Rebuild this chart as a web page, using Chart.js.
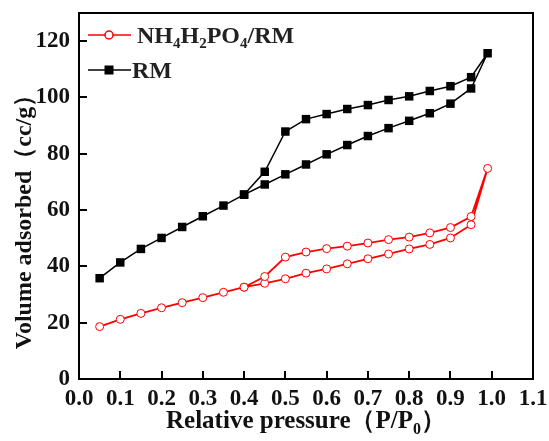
<!DOCTYPE html>
<html>
<head>
<meta charset="utf-8">
<script src="https://cdn.jsdelivr.net/npm/chart.js@4/dist/chart.umd.min.js"></script>
<style>
  html, body { margin: 0; padding: 0; background: #fff; }
  #box { width: 549px; height: 441px; }
</style>
</head>
<body>
<div id="box"><canvas id="grafica"></canvas></div>
<script>
/* Datos */
const presion = [0.05, 0.10, 0.15, 0.20, 0.25, 0.30, 0.35, 0.40, 0.45, 0.50,
                 0.55, 0.60, 0.65, 0.70, 0.75, 0.80, 0.85, 0.90, 0.95, 0.99];
const presionDes = [0.95, 0.90, 0.85, 0.80, 0.75, 0.70, 0.65, 0.60, 0.55, 0.50, 0.45, 0.40];

const rmAds = [35.8, 41.4, 46.2, 50.1, 54.0, 57.8, 61.6, 65.5, 69.1, 72.7,
               76.2, 79.8, 83.1, 86.3, 89.1, 91.7, 94.4, 97.8, 103.2, 115.7];
const rmDes = [107.2, 104.0, 102.3, 100.4, 99.1, 97.3, 95.9, 94.1, 92.3, 87.9, 73.6, 65.5];

const nhAds = [18.6, 21.2, 23.3, 25.3, 27.1, 28.9, 30.8, 32.6, 34.0, 35.6,
               37.6, 39.1, 40.9, 42.7, 44.4, 46.2, 47.8, 50.1, 54.8, 74.8];
const nhDes = [57.7, 53.8, 51.9, 50.4, 49.5, 48.3, 47.2, 46.3, 45.1, 43.3, 36.4, 32.6];

const xTicks = [0, 0.1, 0.2, 0.3, 0.4, 0.5, 0.6, 0.7, 0.8, 0.9, 1.0, 1.1];
const yTicks = [0, 20, 40, 60, 80, 100, 120];

const serif = "'Liberation Serif', 'Times New Roman', serif";

/* adsorcion + desorcion en un solo trazo */
function lazo(ads, des) {
    let pts = presion.map((p, i) => ({ x: p, y: ads[i] }));
    presionDes.forEach((p, i) => pts.push({ x: p, y: des[i] }));
    return pts;
}

/* texto con subindices: partes [texto, esSub] */
function textoSub(ctx, partes, x, y, size, align) {
    const big = "bold " + size + "px " + serif;
    const small = "bold " + Math.round(size * 0.62) + "px " + serif;
    let ancho = 0;
    partes.forEach(p => {
        ctx.font = p[1] ? small : big;
        ancho += ctx.measureText(p[0]).width;
    });
    let cx = align === "center" ? x - ancho / 2 : x;
    ctx.textAlign = "left";
    ctx.textBaseline = "alphabetic";
    partes.forEach(p => {
        ctx.font = p[1] ? small : big;
        ctx.fillText(p[0], cx, p[1] ? y + size * 0.22 : y);
        cx += ctx.measureText(p[0]).width;
    });
}

const extras = {
    id: "extras",
    afterDraw(chart) {
        const ctx = chart.ctx;
        const a = chart.chartArea;
        const sx = chart.scales.x, sy = chart.scales.y;
        ctx.save();
        ctx.strokeStyle = "#000";
        ctx.fillStyle = "#000";
        ctx.lineWidth = 2;
        ctx.strokeRect(a.left, a.top, a.right - a.left, a.bottom - a.top);

        // marcas hacia dentro
        ctx.beginPath();
        xTicks.forEach(v => {
            const px = Math.round(sx.getPixelForValue(v));
            ctx.moveTo(px, a.bottom);
            ctx.lineTo(px, a.bottom - 8);
        });
        yTicks.forEach(v => {
            const py = Math.round(sy.getPixelForValue(v));
            ctx.moveTo(a.left, py);
            ctx.lineTo(a.left + 8, py);
        });
        ctx.stroke();

        // titulos de ejes
        ctx.fillStyle = "#111";
        textoSub(ctx, [["Relative pressure（P/P", false], ["0", true], ["）", false]],
                 (a.left + a.right) / 2, 428, 25, "center");
        ctx.save();
        ctx.translate(31, 216);
        ctx.rotate(-Math.PI / 2);
        textoSub(ctx, [["Volume adsorbed（cc/g）", false]], 0, 0, 24, "center");
        ctx.restore();

        // leyenda
        const lx0 = a.left + 9, lx1 = a.left + 52, lm = a.left + 30;
        ctx.lineWidth = 1.5;
        ctx.strokeStyle = "#ff0000";
        ctx.beginPath(); ctx.moveTo(lx0, 35); ctx.lineTo(lx1, 35); ctx.stroke();
        ctx.fillStyle = "#fff";
        ctx.beginPath(); ctx.arc(lm, 35, 4, 0, Math.PI * 2); ctx.fill(); ctx.stroke();

        ctx.strokeStyle = "#000";
        ctx.beginPath(); ctx.moveTo(lx0, 70); ctx.lineTo(lx1, 70); ctx.stroke();
        ctx.fillStyle = "#000";
        ctx.fillRect(lm - 4.5, 65.5, 9, 9);

        ctx.fillStyle = "#222";
        textoSub(ctx, [["NH", false], ["4", true], ["H", false], ["2", true],
                       ["PO", false], ["4", true], ["/RM", false]], 137, 43, 24, "left");
        textoSub(ctx, [["RM", false]], 132, 78, 24, "left");
        ctx.restore();
    }
};

new Chart(document.getElementById("grafica").getContext("2d"), {
    type: "scatter",
    data: {
        datasets: [{
            label: "NH4H2PO4/RM",
            data: lazo(nhAds, nhDes),
            showLine: true,
            borderColor: "#ff0000",
            borderWidth: 1.8,
            pointStyle: "circle",
            pointRadius: 4,
            pointBorderWidth: 1,
            pointBorderColor: "#ff0000",
            pointBackgroundColor: "#ffffff"
        }, {
            label: "RM",
            data: lazo(rmAds, rmDes),
            showLine: true,
            borderColor: "#000000",
            borderWidth: 1.5,
            pointStyle: "rect",
            pointRadius: 6,
            pointBorderWidth: 0,
            pointBackgroundColor: "#000000"
        }]
    },
    options: {
        responsive: true,
        maintainAspectRatio: false,
        animation: false,
        layout: { padding: { top: 13, right: 16, left: 0, bottom: 0 } },
        plugins: {
            legend: { display: false },
            tooltip: { enabled: false }
        },
        scales: {
            x: {
                type: "linear",
                min: 0, max: 1.1,
                afterBuildTicks: s => { s.ticks = xTicks.map(v => ({ value: v })); },
                afterFit: s => { s.height = 62; s.paddingLeft = 0; s.paddingRight = 0; },
                grid: { display: false, drawTicks: false },
                border: { display: false },
                ticks: {
                    padding: 6,
                    color: "#111",
                    font: { family: serif, weight: "bold", size: 23 },
                    callback: v => Number(v).toFixed(1)
                }
            },
            y: {
                type: "linear",
                min: 0, max: 130,
                afterBuildTicks: s => { s.ticks = yTicks.map(v => ({ value: v })); },
                afterFit: s => { s.width = 79; s.paddingTop = 0; s.paddingBottom = 0; },
                grid: { display: false, drawTicks: false },
                border: { display: false },
                ticks: {
                    padding: 9,
                    color: "#111",
                    font: { family: serif, weight: "bold", size: 23 }
                }
            }
        }
    },
    plugins: [extras]
});
</script>
</body>
</html>
